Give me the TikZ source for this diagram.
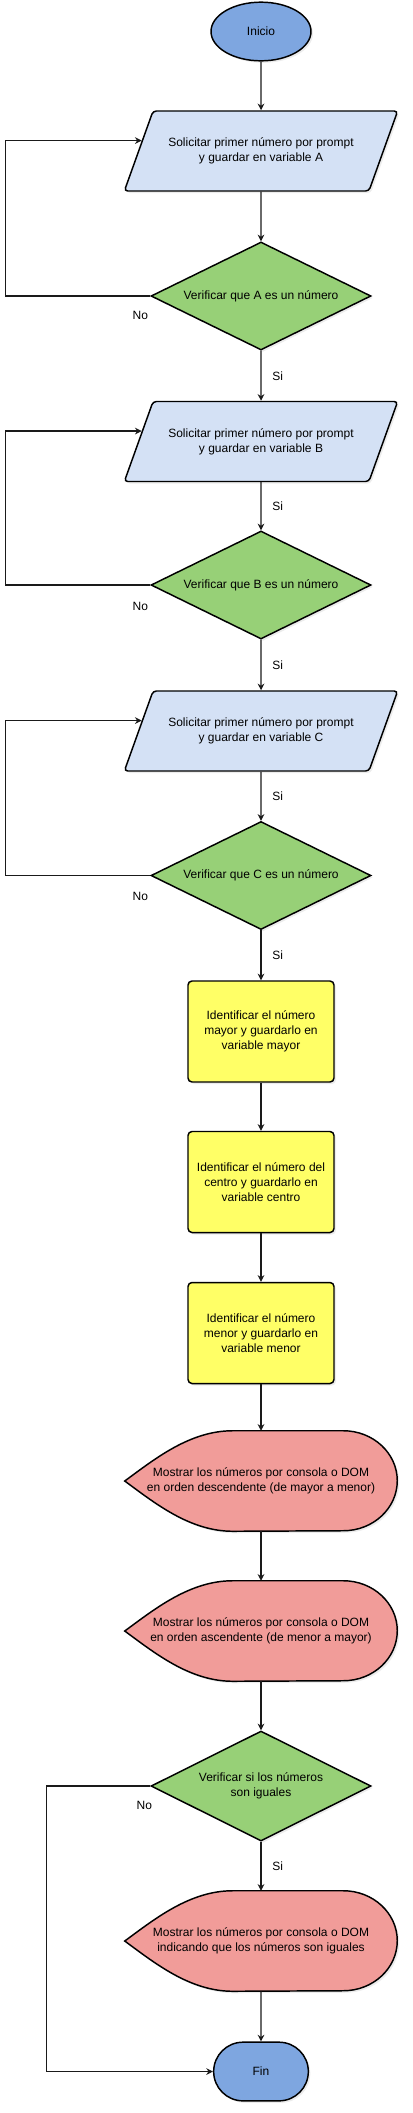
\documentclass[tikz,border=0pt]{standalone}
\usepackage{fontspec}
\setmainfont{Liberation Sans}
\usepackage{tikz}
\usetikzlibrary{arrows.meta, shapes.geometric, shapes.misc,
                calc, backgrounds, shadows}
\definecolor{termBlue}{HTML}{7EA6E0}
\definecolor{inFill}{HTML}{D4E1F5}
\definecolor{decGreen}{HTML}{97D077}
\definecolor{procYellow}{HTML}{FFFF66}
\definecolor{outRed}{HTML}{F19C99}
\definecolor{arrowDark}{HTML}{1A1A1A}

\begin{document}
\begin{tikzpicture}[
    x=0.75pt, y=-0.75pt,
    >=Stealth,
    font=\fontsize{9}{11.25}\selectfont,
    % common outline of every block
    shapeBase/.style={
        draw=black, line width=1.1pt,
        align=center, inner sep=2pt,
        drop shadow={shadow xshift=1.5pt, shadow yshift=-1.5pt,
                     opacity=0.15}
    },
    % start / end
    termS/.style={
        shapeBase, ellipse, fill=termBlue,
        minimum width=75pt, minimum height=44pt
    },
    termE/.style={
        shapeBase, rounded rectangle, fill=termBlue,
        minimum width=75pt, minimum height=44pt
    },
    % input (parallelogram)
    inB/.style={
        shapeBase, trapezium, fill=inFill,
        trapezium left angle=51.3, trapezium right angle=128.7,
        trapezium stretches, rounded corners=2.5pt,
        minimum width=205.5pt, minimum height=60pt
    },
    % decision
    decG/.style={
        shapeBase, diamond, fill=decGreen, inner sep=0pt, aspect=2.04,
        minimum width=165pt, minimum height=81pt
    },
    % process
    procY/.style={
        shapeBase, rectangle, rounded corners=3pt, fill=procYellow,
        minimum width=109.5pt, minimum height=75.75pt
    },
    % display (outline drawn separately)
    outR/.style={
        align=center, inner sep=0pt,
        minimum width=204pt, minimum height=75pt
    },
    outLine/.style={
        draw=black, line width=1.1pt, fill=outRed,
        drop shadow={shadow xshift=1.5pt, shadow yshift=-1.5pt,
                     opacity=0.15}
    },
    conn/.style={
        -{Stealth[length=5pt, width=5pt]},
        line width=0.9pt, draw=arrowDark
    },
    lbl/.style={inner sep=1pt}
]
\useasboundingbox (0,0) rectangle (413,2113);
% ── Blocks (main column, x = 261) ─────────────────────────────
\node[termS] (inicio) at (261, 31.5) {Inicio};
\node[inB]   (paraA)  at (261, 151)
    {Solicitar primer número por prompt\\y guardar en variable A};
\node[decG]  (decA)   at (261, 296) {Verificar que A es un número};
\node[inB]   (paraB)  at (261, 441.5)
    {Solicitar primer número por prompt\\y guardar en variable B};
\node[decG]  (decB)   at (261, 585) {Verificar que B es un número};
\node[inB]   (paraC)  at (261, 731)
    {Solicitar primer número por prompt\\y guardar en variable C};
\node[decG]  (decC)   at (261, 875.5) {Verificar que C es un número};
\node[procY] (mayor)  at (261, 1031.5)
    {Identificar el número\\mayor y guardarlo en\\variable mayor};
\node[procY] (centro) at (261, 1182)
    {Identificar el número del\\centro y guardarlo en\\variable centro};
\node[procY] (menor)  at (261, 1333)
    {Identificar el número\\menor y guardarlo en\\variable menor};
\node[outR]  (dispDesc) at (261, 1481)
    {Mostrar los números por consola o DOM\\en orden descendente (de mayor a menor)};
\node[outR]  (dispAsc)  at (261, 1631)
    {Mostrar los números por consola o DOM\\en orden ascendente (de menor a mayor)};
\node[decG, minimum height=82.5pt] (decIg) at (261, 1786)
    {Verificar si los números\\son iguales};
\node[outR]  (dispIg)   at (261, 1941)
    {Mostrar los números por consola o DOM\\indicando que los números son iguales};
\node[termE] (fin)    at (261, 2071.5) {Fin};
% ── Display outlines, behind the text ─────────────────────────
\begin{scope}[on background layer]
\foreach \d in {dispDesc, dispAsc, dispIg} {
    \draw[outLine] (\d.west)
        .. controls ($(\d.west)+(30,-22)$) and ($(\d.north west)+(65,0)$)
        .. ($(\d.north west)+(108,0)$)
        -- ($(\d.north east)+(-54,0)$)
        arc[start angle=90, end angle=-90, x radius=40.5pt, y radius=37.5pt]
        -- ($(\d.south west)+(108,0)$)
        .. controls ($(\d.south west)+(65,0)$) and ($(\d.west)+(30,22)$)
        .. (\d.west) -- cycle;
}
\end{scope}
% ── Main flow ─────────────────────────────────────────────────
\draw[conn] (inicio) -- (paraA);
\draw[conn] (paraA) -- (decA);
\draw[conn] (decA) -- node[lbl, right=7pt] (siA) {Si} (paraB);
\draw[conn] (paraB) -- node[lbl, right=7pt] (siB1) {Si} (decB);
\draw[conn] (decB) -- node[lbl, right=7pt] (siB2) {Si} (paraC);
\draw[conn] (paraC) -- node[lbl, right=7pt] (siC1) {Si} (decC);
\draw[conn] (decC) -- node[lbl, right=7pt] (siC2) {Si} (mayor);
\draw[conn] (mayor) -- (centro);
\draw[conn] (centro) -- (menor);
\draw[conn] (menor) -- (dispDesc);
\draw[conn] (dispDesc) -- (dispAsc);
\draw[conn] (dispAsc) -- (decIg);
\draw[conn] (decIg) -- node[lbl, right=7pt] (siIg) {Si} (dispIg);
\draw[conn] (dispIg) -- (fin);
% ── "No" loops back to the inputs ─────────────────────────────
\draw[conn] (decA.west) -- ++(-145,0) |- (paraA.175);
\draw[conn] (decB.west) -- ++(-145,0) |- (paraB.175);
\draw[conn] (decC.west) -- ++(-145,0) |- (paraC.175);
\draw[conn] (decIg.west) -- ++(-104,0) |- (fin.west);
\node[lbl] (noA)  at ($(decA.west)+(-10,19)$)  {No};
\node[lbl] (noB)  at ($(decB.west)+(-10,21)$)  {No};
\node[lbl] (noC)  at ($(decC.west)+(-10,20.5)$) {No};
\node[lbl] (noIg) at ($(decIg.west)+(-6,19)$)  {No};
\end{tikzpicture}
\end{document}
